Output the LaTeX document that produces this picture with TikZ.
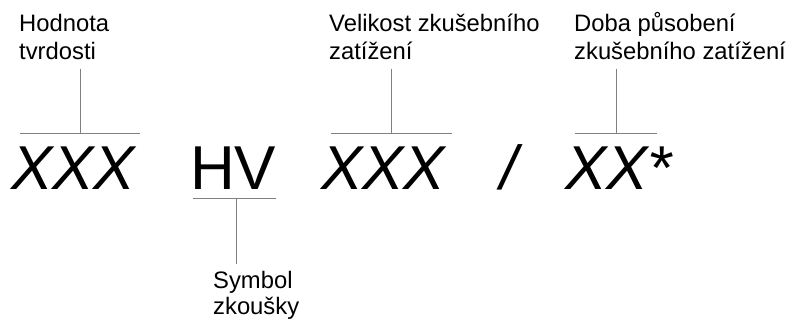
\documentclass[tikz,border=0pt]{standalone}
\usepackage{fontspec}
\setmainfont{Liberation Sans}
\begin{document}
\begin{tikzpicture}[x=1pt,y=1pt,
  lbl/.style={inner sep=0pt,anchor=base west,font=\fontsize{23.8}{28}\selectfont},
  big/.style={inner sep=0pt,anchor=base west,font=\fontsize{62}{70}\selectfont},
  bar/.style={draw=black!50,line width=1pt}]
\useasboundingbox (0,0) rectangle (791,320);
% labels (y = 320 - pixel)
\node[lbl] (h1) at (19,288) {Hodnota};
\node[lbl] (h2) at (19,260) {tvrdosti};
\node[lbl] (v1) at (329,288) {Velikost zkušebního};
\node[lbl] (v2) at (329,260) {zatížení};
\node[lbl] (d1) at (574,288) {Doba působení};
\node[lbl] (d2) at (574,260) {zkušebního zatížení};
\node[lbl] (s1) at (213,31) {Symbol};
\node[lbl] (s2) at (213,5) {zkoušky};
% big symbols
\node[big] (x1) at (11,130) {\itshape XXX};
\node[big] (hv) at (190,130) {HV};
\node[big] (x2) at (321,130) {\itshape XXX};
\node[big] (sl) at (500,130) {\itshape /};
\node[big] (x3) at (565,130) {\itshape XX*};
% bars and leaders
\coordinate (b1l) at (20,186); \coordinate (b1r) at (140,186);
\coordinate (t1) at (80,251); \coordinate (m1) at (80,186);
\coordinate (b2l) at (193,121); \coordinate (b2r) at (276,121);
\coordinate (t2) at (236,56); \coordinate (m2) at (236,121);
\coordinate (b3l) at (331,186); \coordinate (b3r) at (452,186);
\coordinate (t3) at (391,251); \coordinate (m3) at (391,186);
\coordinate (b4l) at (575,186); \coordinate (b4r) at (657,186);
\coordinate (t4) at (616,251); \coordinate (m4) at (616,186);
\draw[bar] (b1l) -- (b1r); \draw[bar] (t1) -- (m1);
\draw[bar] (b2l) -- (b2r); \draw[bar] (t2) -- (m2);
\draw[bar] (b3l) -- (b3r); \draw[bar] (t3) -- (m3);
\draw[bar] (b4l) -- (b4r); \draw[bar] (t4) -- (m4);
\end{tikzpicture}
\end{document}
